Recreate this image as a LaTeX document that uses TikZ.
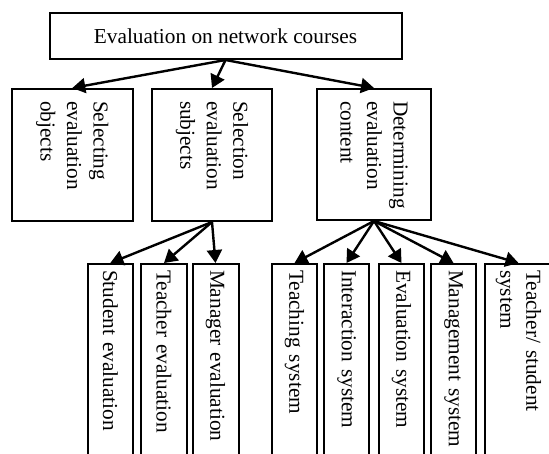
\documentclass[tikz,border=0pt]{standalone}
\usepackage{fontspec}
\setmainfont{Liberation Serif}
\usetikzlibrary{arrows.meta}
\tikzstyle{topBox}=[shape = rectangle, draw, line width = 2pt, minimum width = 352pt, minimum height = 46pt, inner sep = 0pt, font = \fontsize{21.3}{26.5}\selectfont]
\tikzstyle{midBox}=[shape = rectangle, draw, line width = 2pt, rotate = -90, inner xsep = 12pt, inner ysep = 0pt, text width = 108pt, align = left, font = \fontsize{21.3}{26.5}\selectfont]
\tikzstyle{leafBox}=[shape = rectangle, draw, line width = 2pt, rotate = -90, minimum width = 216pt, inner xsep = 6pt, inner ysep = 0pt, text width = 204pt, align = left, font = \fontsize{21.3}{26}\selectfont]
\tikzstyle{treeEdge}=[line width = 2.4pt, -{Triangle[length = 13pt, width = 15pt]}]

\begin{document}
\begin{tikzpicture}[x = 1pt, y = -1pt]
\useasboundingbox (0,0) rectangle (549,453);
\clip (0,0) rectangle (549,453);
\node[topBox] (root) at (225.5,36) {Evaluation on network courses};
\node[midBox, minimum width = 132pt, minimum height = 121.4pt] (selObj) at (72.3,155) {Selecting\\evaluation\\objects};
\node[midBox, minimum width = 132pt, minimum height = 120pt] (selSub) at (212,155) {Selection\\evaluation\\subjects};
\node[midBox, minimum width = 131pt, minimum height = 114pt, text width = 107pt] (detCon) at (374,154.5) {Determining\\evaluation\\content};
\node[leafBox, minimum height = 45.5pt] (stuEval) at (110.3,372) {Student evaluation};
\node[leafBox, minimum height = 46pt] (teaEval) at (164,372) {Teacher evaluation};
\node[leafBox, minimum height = 46pt] (manEval) at (215.5,372) {Manager evaluation};
\node[leafBox, minimum height = 45pt] (teaSys) at (294.5,372) {Teaching system};
\node[leafBox, minimum height = 45pt] (intSys) at (346.5,372) {Interaction system};
\node[leafBox, minimum height = 45pt] (evaSys) at (401.5,372) {Evaluation system};
\node[leafBox, minimum height = 45pt] (manSys) at (453.5,372) {Management system};
\node[leafBox, minimum height = 67pt] (tsSys) at (518.5,372) {Teacher/ student\\system};
\draw[treeEdge] (root.south) -- (selObj.west);
\draw[treeEdge] (root.south) -- (selSub.west);
\draw[treeEdge] (root.south) -- (detCon.west);
\draw[treeEdge] (selSub.east) -- (stuEval.west);
\draw[treeEdge] (selSub.east) -- (teaEval.west);
\draw[treeEdge] (selSub.east) -- (manEval.west);
\draw[treeEdge] (detCon.east) -- (teaSys.west);
\draw[treeEdge] (detCon.east) -- (intSys.west);
\draw[treeEdge] (detCon.east) -- (evaSys.west);
\draw[treeEdge] (detCon.east) -- (manSys.west);
\draw[treeEdge] (detCon.east) -- (tsSys.west);
\end{tikzpicture}
\end{document}
